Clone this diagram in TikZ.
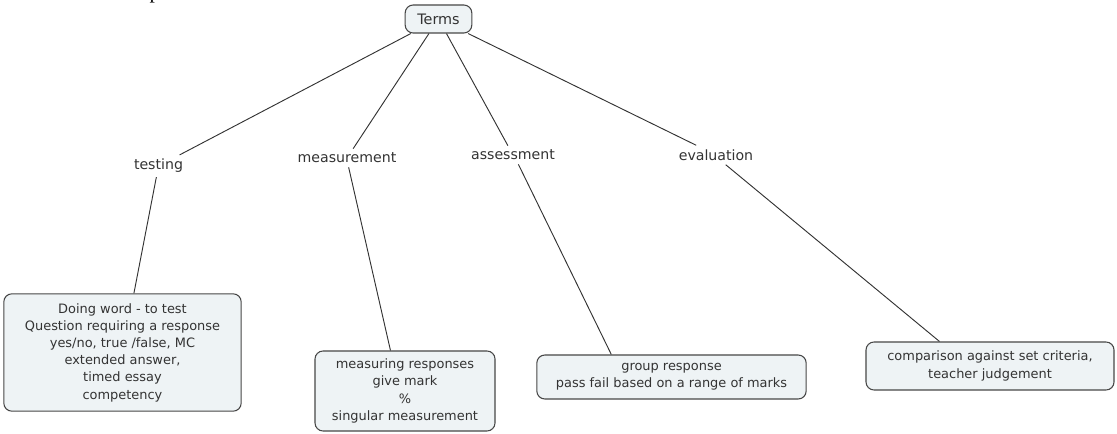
\documentclass[tikz,border=0pt]{standalone}
\usepackage{fontspec}
\setmainfont{DejaVu Sans}
\newfontfamily\titlefont{Liberation Serif}
\usetikzlibrary{calc}
\definecolor{boxfill}{HTML}{EEF3F5}
\definecolor{boxline}{HTML}{474747}
\definecolor{ink}{HTML}{333333}
\begin{document}
\begin{tikzpicture}[x=0.75pt,y=-0.75pt,
  every node/.style={text=ink,font=\fontsize{9.7}{12.9}\selectfont},
  concept/.style={draw=boxline,fill=boxfill,rounded corners=6pt,line width=0.8pt,
    align=center,inner sep=0pt},
  linkword/.style={inner sep=3pt,font=\fontsize{10.6}{13}\selectfont},
  link/.style={draw=ink,line width=0.7pt}]
\useasboundingbox (0,0) rectangle (1117,434);

% edge of the page title, cut by the top margin
\node[anchor=base,inner sep=0pt,font=\titlefont\fontsize{16}{16}\selectfont,text=black] (ttl) at (155,-1.5) {p};

% root concept
\node[concept,minimum width=50pt,minimum height=21pt,font=\fontsize{10.8}{13}\selectfont] (terms) at (438.5,19) {Terms};

% linking words
\node[linkword] (tes) at (158.5,166) {testing};
\node[linkword] (mea) at (347,158) {measurement};
\node[linkword] (ass) at (513,155) {assessment};
\node[linkword] (eva) at (716,155) {evaluation};

% leaf concepts
\node[concept,minimum width=178pt,minimum height=88pt] (c1) at (122.5,352.5)
  {Doing word - to test\\Question requiring a response\\yes/no, true /false, MC\\extended answer,\\timed essay\\competency};
\node[concept,minimum width=135pt,minimum height=60pt] (c2) at (405,391)
  {measuring responses\\give mark\\\%\\singular measurement};
\node[concept,minimum width=202pt,minimum height=33pt] (c3) at (671.5,377)
  {group response\\pass fail based on a range of marks};
\node[concept,minimum width=186pt,minimum height=36pt] (c4) at (990,366)
  {comparison against set criteria,\\teacher judgement};

% connectors
\draw[link] (terms) -- (tes);
\draw[link] (terms) -- (mea);
\draw[link] (terms) -- (ass);
\draw[link] (terms) -- (eva);
\draw[link] (tes) -- (c1);
\draw[link] (mea.-80) -- ($(c2.north west)+(76,0)$);
\draw[link] (ass.-60) -- ($(c3.north west)+(75,0)$);
\draw[link] (eva.-45) -- ($(c4.north west)+(74,0)$);
\end{tikzpicture}
\end{document}
